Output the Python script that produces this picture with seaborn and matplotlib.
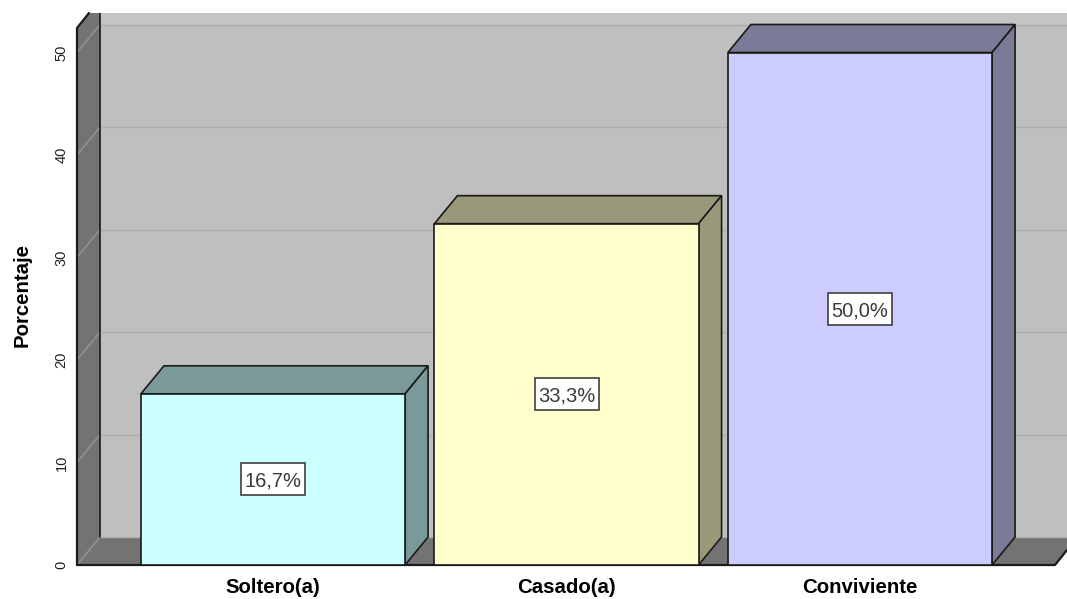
import matplotlib
matplotlib.use("Agg")
import matplotlib.pyplot as plt
from matplotlib.colors import to_rgb
from matplotlib.patches import Polygon, Rectangle
import pandas as pd
import seaborn as sns

# --- Data ---
categories = ["Soltero(a)", "Casado(a)", "Conviviente"]
percentages = [16.7, 33.3, 50.0]
bar_labels = ["16,7%", "33,3%", "50,0%"]
bar_colors = ["#CCFFFF", "#FFFFCC", "#CCCCFF"]
y_ticks = [0, 10, 20, 30, 40, 50]

W, H = 1067, 599
px_per_x = 293.5   # pixels per category step
px_per_y = 10.25   # pixels per percent
dx = 23 / px_per_x  # depth of the fake 3D box
dy = 28 / px_per_y
wall = "#BFBFBF"
wall_top = "#C4C4C4"
side = "#737373"
grid = "#AEAEAE"
edge = "#1A1A1A"

sns.set_theme(style="white")
plt.rcParams["font.family"] = ["Liberation Sans", "DejaVu Sans"]

df = pd.DataFrame({"estado": categories, "pct": percentages})

fig = plt.figure(figsize=(W / 100, H / 100), dpi=100, facecolor="white")
# axes spans from the front left corner to the right edge of the picture
ax = fig.add_axes([77 / W, (H - 565) / H, (W - 77) / W, (565 - 13) / H])

sns.barplot(data=df, x="estado", y="pct", hue="estado", palette=bar_colors,
            order=categories, hue_order=categories, legend=False, width=0.9,
            edgecolor=edge, linewidth=1.2, saturation=1, ax=ax, zorder=5)

x0 = -196 / px_per_x
x1 = x0 + (W - 77) / px_per_x
y1 = (565 - 13) / px_per_y
ax.set_xlim(x0, x1)
ax.set_ylim(0, y1)

# back wall, left wall and floor
back_x = x0 + dx
floor_end = x0 + 978 / px_per_x
ax.add_patch(Rectangle((back_x, dy), x1 - back_x, y1 - dy, fc=wall, ec="none", zorder=1))
ax.add_patch(Rectangle((back_x, y_ticks[-1] + dy), x1 - back_x, y1 - y_ticks[-1] - dy, fc=wall_top, ec="none", zorder=1.2))
ax.add_patch(Polygon([(x0, 0), (back_x, dy), (x1, dy), (x1, 15 / px_per_y), (floor_end, 0)],
                     closed=True, fc=side, ec="none", zorder=1))
ax.add_patch(Polygon([(x0, 0), (back_x, dy), (back_x, y1), (x0 + 12 / px_per_x, y1), (x0, y1 - 15 / px_per_y)],
                     closed=True, fc=side, ec="none", zorder=2))

# grid lines on the back wall and the left wall
for t in y_ticks:
    ax.plot([x0, back_x], [t, t + dy], color="#969696", lw=1, zorder=3)
    ax.plot([back_x, x1], [t + dy, t + dy], color=grid, lw=1, zorder=1.5)

# outline of the box
ax.plot([x0, x0, x0 + 12 / px_per_x], [0, y1 - 15 / px_per_y, y1], color=edge, lw=1.6, zorder=4, clip_on=False)
ax.plot([back_x, back_x], [dy, y1], color=edge, lw=1.2, zorder=4)
ax.plot([x0, floor_end, floor_end + 12 / px_per_x], [0, 0, 15 / px_per_y], color=edge, lw=1.6, zorder=4, clip_on=False)

# depth faces and value boxes for each bar
for container, color, label in zip(ax.containers, bar_colors, bar_labels):
    bar = container.patches[0]
    l, w, h = bar.get_x(), bar.get_width(), bar.get_height()
    r = l + w
    dark = tuple(c * 0.6 for c in to_rgb(color))
    ax.add_patch(Polygon([(l, h), (r, h), (r + dx, h + dy), (l + dx, h + dy)], closed=True,
                         fc=dark, ec=edge, lw=1.2, zorder=4))
    ax.add_patch(Polygon([(r, 0), (r + dx, dy), (r + dx, h + dy), (r, h)], closed=True,
                         fc=dark, ec=edge, lw=1.2, zorder=4))
    cx = l + w / 2
    ax.add_patch(Rectangle((cx - 32 / px_per_x, h / 2 - 16 / px_per_y), 64 / px_per_x, 32 / px_per_y,
                           fc="white", ec="#404040", lw=1.2, zorder=6))
    ax.text(cx, h / 2, label, ha="center", va="center_baseline", fontsize=14.5, color="#3A3A3A", zorder=7)

ax.set_xlabel("")
ax.set_ylabel("Porcentaje", fontsize=14.7, fontweight="bold", labelpad=0, color="black")
ax.yaxis.set_label_coords(-45 / (W - 77), (565 - 295) / (565 - 13))
ax.set_yticks(y_ticks)
ax.set_yticklabels([str(t) for t in y_ticks], rotation=90, va="center", fontsize=10.5, color="#222222")
ax.tick_params(axis="y", length=0, pad=6)
ax.tick_params(axis="x", length=0, pad=9.5)
ax.set_xticks(range(len(categories)))
ax.set_xticklabels(categories, fontsize=14.7, fontweight="bold", color="black")
sns.despine(ax=ax, left=True, bottom=True, right=True, top=True)

fig.savefig("out.png", dpi=100, facecolor="white")
